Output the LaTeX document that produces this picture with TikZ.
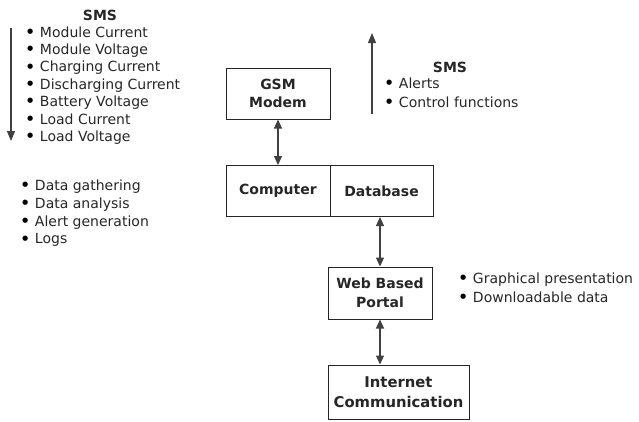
\documentclass[tikz,border=0pt]{standalone}
\usepackage{fontspec}
\setmainfont{DejaVu Sans}
\usepackage{tikz}
\usetikzlibrary{positioning,arrows.meta}

\newcommand{\itm}{\raisebox{-0.08em}{\scalebox{1.3}{\color{black}\textbullet}}\ }

\begin{document}
\begin{tikzpicture}[
    x=1pt, y=-1pt,
    every node/.style={font=\fontsize{14}{17.4}\selectfont, text=black!85},
    unit/.style={rectangle, draw=black!85, line width=1pt, minimum width=104pt, minimum height=51pt, align=center, inner sep=1pt, font=\fontsize{14}{18.5}\selectfont\bfseries},
    notes/.style={align=left, inner sep=0pt},
    head/.style={font=\fontsize{14}{14}\selectfont\bfseries},
    link/.style={{Triangle[length=9pt,width=8pt]}-{Triangle[length=9pt,width=8pt]}, line width=1.1pt, draw=black!75},
    flow/.style={-{Triangle[length=10pt,width=8pt]}, line width=1.1pt, draw=black!75}
]
\useasboundingbox (0,0) rectangle (639,421);

%% ---- Blocks ----
\node[unit] (gsm) at (278,93.5) {GSM\\Modem};
\node[unit] (pc) at (278,191) {Computer};
\node[unit, minimum width=103pt] (db) at (381.5,191) {Database};
\node[unit, minimum height=52pt] (web) at (380,293) {Web Based\\Portal};
\node[unit, minimum width=141pt, minimum height=54pt, font=\fontsize{14.8}{20}\selectfont\bfseries] (net) at (398.5,392) {Internet\\Communication};

%% ---- Outgoing SMS (left) ----
\node[head] (smsin) at (100,15) {SMS};
\node[notes, anchor=west] (meas) at (24.6,85.5) {\itm Module Current\\\itm Module Voltage\\\itm Charging Current\\\itm Discharging Current\\\itm Battery Voltage\\\itm Load Current\\\itm Load Voltage};
\coordinate (dtop) at (11,28);
\coordinate (dbot) at (11,141);

%% ---- Computer tasks ----
\node[notes, anchor=west, font=\fontsize{14}{17.7}\selectfont] (tasks) at (19.6,213.5) {\itm Data gathering\\\itm Data analysis\\\itm Alert generation\\\itm Logs};

%% ---- Incoming SMS (right) ----
\node[head] (smsout) at (450,67) {SMS};
\node[notes, anchor=west, font=\fontsize{14}{19}\selectfont] (ctrl) at (383.6,93.5) {\itm Alerts\\\itm Control functions};
\coordinate (ubot) at (372,114);
\coordinate (utop) at (372,33);

%% ---- Portal features ----
\node[notes, anchor=west, font=\fontsize{14}{19}\selectfont] (feat) at (457.6,288.5) {\itm Graphical presentation\\\itm Downloadable data};

%% ---- Arrows ----
\draw[flow] (dtop) -- (dbot);
\draw[flow] (ubot) -- (utop);
\draw[link] (gsm) -- (pc);
\draw[link] (db.south -| web) -- (web);
\draw[link] (web) -- (net.north -| web);

\end{tikzpicture}
\end{document}
